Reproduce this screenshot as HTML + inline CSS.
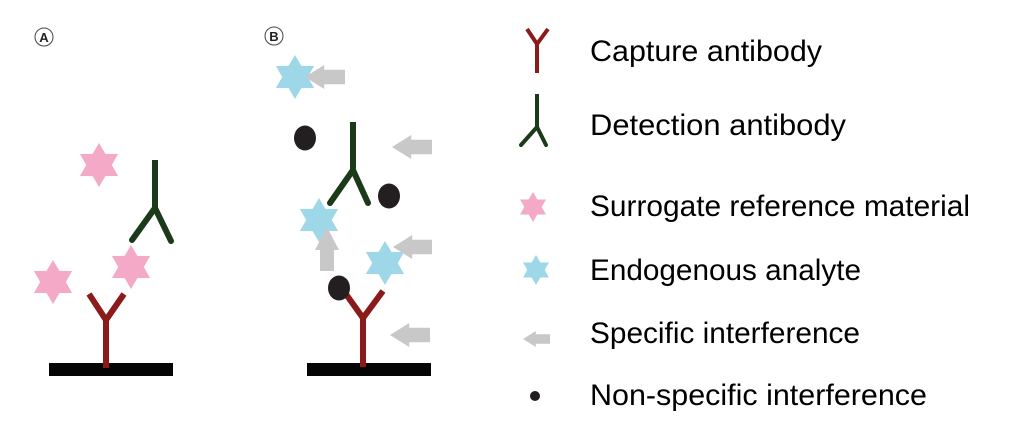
<!DOCTYPE html>
<html><head><meta charset="utf-8"><style>
html,body{margin:0;padding:0;background:#fff;}
svg{display:block}
text{font-family:"Liberation Sans",sans-serif;}
</style></head><body>
<svg id="s" width="1011" height="431" viewBox="0 0 1011 431" xmlns="http://www.w3.org/2000/svg">
<circle cx="44" cy="37" r="9" fill="none" stroke="#444" stroke-width="1"/>
<text x="44" y="42" font-size="13" font-weight="bold" text-anchor="middle" fill="#222">A</text>
<circle cx="274" cy="36" r="9" fill="none" stroke="#444" stroke-width="1"/>
<text x="274" y="41" font-size="13" font-weight="bold" text-anchor="middle" fill="#222">B</text>
<rect x="49" y="363" width="124" height="13" fill="#050505"/>
<rect x="307" y="363" width="124" height="13" fill="#050505"/>
<g id="stars"></g>
<g stroke="#8b1a1a" stroke-width="6" fill="none" stroke-linecap="butt">
<line x1="106" y1="320" x2="106" y2="368"/>
<polyline points="89,294 106,320 124,294" stroke-linejoin="miter"/>
<line x1="363" y1="318" x2="363" y2="367"/>
<polyline points="343,290 363,318 383,291"/>
<line x1="537" y1="44" x2="537" y2="73" stroke-width="4"/>
<polyline points="527,29 537,44 548,29" stroke-width="4"/>
</g>
<g stroke="#1a3a1a" stroke-width="6" fill="none" stroke-linecap="round">
<line x1="155" y1="160" x2="155" y2="208" stroke-linecap="butt"/>
<polyline points="132,240 155,208 171,241"/>
<line x1="353" y1="122" x2="353" y2="170" stroke-linecap="butt"/>
<polyline points="330,203 353,170 368,203"/>
<line x1="537" y1="94" x2="537" y2="127" stroke-width="4" stroke-linecap="butt"/>
<polyline points="521,145 537,127 546,145" stroke-width="4"/>
</g>
<g fill="#c8c8c8" id="arrows"></g>
<g fill="#231f20">
<ellipse cx="305" cy="138" rx="11" ry="12.5"/>
<ellipse cx="389" cy="196" rx="11" ry="12.5"/>
<ellipse cx="339" cy="288" rx="11" ry="12.5"/>
<circle cx="535" cy="396" r="5"/>
</g>
<g font-size="29.5" fill="#000">
<text x="590" y="61" textLength="232" lengthAdjust="spacingAndGlyphs">Capture antibody</text>
<text x="590" y="135" textLength="256" lengthAdjust="spacingAndGlyphs">Detection antibody</text>
<text x="590" y="216" textLength="380" lengthAdjust="spacingAndGlyphs">Surrogate reference material</text>
<text x="590" y="280" textLength="271" lengthAdjust="spacingAndGlyphs">Endogenous analyte</text>
<text x="590" y="343" textLength="270" lengthAdjust="spacingAndGlyphs">Specific interference</text>
<text x="590" y="405" textLength="337" lengthAdjust="spacingAndGlyphs">Non-specific interference</text>
</g>
</svg>
<script>
var ns="http://www.w3.org/2000/svg";
function star(cx,cy,R,col){var p=[];for(var k=0;k<12;k++){var a=(-90+30*k)*Math.PI/180;var r=k%2?R*0.58:R;p.push((cx+r*Math.cos(a)).toFixed(1)+","+(cy+r*Math.sin(a)).toFixed(1));}
var e=document.createElementNS(ns,"polygon");e.setAttribute("points",p.join(" "));e.setAttribute("fill",col);document.getElementById("stars").appendChild(e);}
var pk="#f4a9c7",bl="#9ed8e8";
star(99,165,22,pk);star(53,282,22,pk);star(131,267,22,pk);
star(295,77,22,bl);star(319,220,22,bl);star(385,263,22,bl);
star(533,207,15,pk);star(536,270,15,bl);
function arrowL(x1,x2,cy,h){var hl=h*1.6;var t=h*0.6;var pts=[x1+","+cy,(x1+hl)+","+(cy-h),(x1+hl)+","+(cy-t),x2+","+(cy-t),x2+","+(cy+t),(x1+hl)+","+(cy+t),(x1+hl)+","+(cy+h)];
var e=document.createElementNS(ns,"polygon");e.setAttribute("points",pts.join(" "));document.getElementById("arrows").appendChild(e);}
arrowL(305,345,77,12);arrowL(392,432,147,12);arrowL(393,432,247,12);arrowL(390,430,335,12);arrowL(523,550,339,8);
var u=document.createElementNS(ns,"polygon");u.setAttribute("points","327,227 339,250 334,250 334,271 320,271 320,250 315,250");document.getElementById("arrows").appendChild(u);
</script>
</body></html>
